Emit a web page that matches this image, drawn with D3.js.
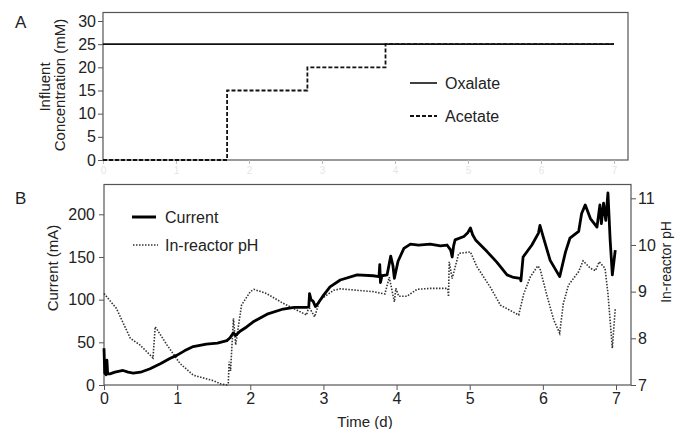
<!DOCTYPE html>
<html>
<head>
<meta charset="utf-8">
<script src="https://cdn.jsdelivr.net/npm/d3@7"></script>
<style>
  body { margin: 0; background: #fff; }
  svg { display: block; font-family: "Liberation Sans", Arial, sans-serif; }
</style>
</head>
<body>
<svg width="675" height="429"></svg>
<script>
// panel A: influent concentrations (step series)
const oxalateDays = [0, 7];
const oxalateMM = [25, 25];
const acetateDays = [0, 1.70, 1.70, 2.80, 2.80, 3.87, 3.87, 7];
const acetateMM = [0, 0, 15, 15, 20, 20, 25, 25];

// panel B: current (mA)
const currentDays = [0.00, 0.01, 0.03, 0.04, 0.05, 0.08, 0.15, 0.26, 0.33, 0.40, 0.50, 0.63, 0.77, 0.90, 1.00,
  1.10, 1.22, 1.40, 1.55, 1.68, 1.72, 1.77, 1.80, 1.86, 1.95, 2.04, 2.23, 2.45, 2.60, 2.77, 2.80, 2.81, 2.83,
  2.86, 2.89, 2.92, 3.00, 3.09, 3.23, 3.46, 3.68, 3.76, 3.77, 3.78, 3.80, 3.87, 3.92, 3.95, 3.97, 4.02, 4.10,
  4.19, 4.30, 4.46, 4.60, 4.69, 4.74, 4.76, 4.78, 4.80, 4.92, 4.97, 5.01, 5.04, 5.08, 5.24, 5.37, 5.51, 5.60,
  5.69, 5.70, 5.73, 5.85, 5.94, 5.96, 6.01, 6.10, 6.23, 6.31, 6.37, 6.49, 6.53, 6.58, 6.65, 6.74, 6.78, 6.80,
  6.83, 6.86, 6.89, 6.92, 6.95, 6.99];
const currentMA = [43, 14, 12, 29, 13, 13, 15, 17, 15, 14, 15, 19, 25, 31, 35,
  40, 45, 48, 49, 52, 55, 61, 58, 63, 68, 74, 83, 89, 91, 91, 92, 107, 100,
  98, 92, 95, 105, 115, 123, 129, 128, 127, 141, 120, 128, 129, 151, 140, 125, 145, 160,
  165, 164, 165, 163, 164, 158, 150, 163, 170, 174, 178, 184, 176, 170, 156, 144, 129, 126,
  125, 122, 150, 164, 178, 187, 172, 146, 127, 156, 172, 180, 201, 211, 195, 185, 211, 189,
  213, 193, 225, 170, 129, 158];

// panel B: in-reactor pH
const phDays = [0.00, 0.17, 0.36, 0.49, 0.67, 0.70, 0.86, 1.04, 1.22, 1.50, 1.60, 1.68, 1.70, 1.71, 1.73,
  1.77, 1.80, 1.88, 2.00, 2.05, 2.22, 2.45, 2.77, 2.80, 2.88, 2.95, 3.14, 3.23, 3.68, 3.84, 3.90, 3.97,
  3.99, 4.03, 4.14, 4.28, 4.46, 4.70, 4.71, 4.72, 4.76, 4.85, 5.01, 5.10, 5.28, 5.42, 5.67, 5.74, 5.83,
  5.93, 5.96, 6.06, 6.15, 6.23, 6.28, 6.35, 6.49, 6.55, 6.65, 6.72, 6.77, 6.85, 6.89, 6.95, 6.99];
const phValues = [8.96, 8.64, 8.00, 7.86, 7.58, 8.25, 7.86, 7.46, 7.21, 7.09, 7.02, 7.00, 7.05, 7.50, 7.30,
  8.43, 7.86, 8.71, 9.00, 9.05, 8.96, 8.75, 8.50, 8.68, 8.46, 8.82, 9.03, 9.06, 9.00, 8.95, 9.31, 8.78,
  9.07, 8.90, 8.90, 9.05, 9.07, 9.07, 8.89, 9.64, 9.28, 9.82, 9.85, 9.53, 9.10, 8.71, 8.50, 8.96, 9.32,
  9.55, 9.50, 8.89, 8.39, 8.11, 8.75, 9.14, 9.43, 9.66, 9.50, 9.45, 9.64, 9.50, 8.96, 7.79, 8.64];

// tick labels
const dayTicks = [0, 1, 2, 3, 4, 5, 6, 7];
const concTicks = [0, 5, 10, 15, 20, 25, 30];
const currentTicks = [0, 50, 100, 150, 200];
const phTicks = [7, 8, 9, 10, 11];

const svg = d3.select("svg");
const axisCol = "#555";
const textCol = "#222";
const fmt = d3.format("d");

// ---------- panel A ----------
const xA = d3.scaleLinear().domain([0, 7]).range([103, 614]);
const yA = d3.scaleLinear().domain([0, 30]).range([160, 21]);

svg.append("rect")
  .attr("x", 103).attr("y", 12.5).attr("width", 525).attr("height", 147.5)
  .attr("fill", "none").attr("stroke", axisCol).attr("stroke-width", 1.2);

const axA = svg.append("g")
  .attr("transform", "translate(103,0)")
  .call(d3.axisLeft(yA).tickValues(concTicks).tickFormat(fmt).tickSize(5).tickPadding(2).tickSizeOuter(0));
axA.select(".domain").remove();
axA.selectAll("line").attr("stroke", axisCol);
axA.selectAll("text").style("font-size", "16px").attr("fill", textCol);

// faint x ticks under panel A
const axAx = svg.append("g")
  .attr("transform", "translate(0,160)")
  .call(d3.axisBottom(xA).tickValues(dayTicks).tickFormat(fmt).tickSize(4).tickSizeOuter(0));
axAx.select(".domain").remove();
axAx.selectAll("line").attr("stroke", "#bbb");
axAx.selectAll("text").style("font-size", "10px").attr("fill", "#e6e6e6");

const lineA = d3.line().x(d => xA(d[0])).y(d => yA(d[1]));

svg.append("path")
  .attr("d", lineA(d3.zip(oxalateDays, oxalateMM)))
  .attr("fill", "none").attr("stroke", "#111").attr("stroke-width", 1.6);

svg.append("path")
  .attr("d", lineA(d3.zip(acetateDays, acetateMM)))
  .attr("fill", "none").attr("stroke", "#111").attr("stroke-width", 1.8)
  .attr("stroke-dasharray", "4,2");

svg.append("text")
  .attr("transform", "translate(44,87)rotate(-90)")
  .attr("text-anchor", "middle").attr("dominant-baseline", "central")
  .style("font-size", "15px").attr("fill", textCol)
  .text("Influent");
svg.append("text")
  .attr("transform", "translate(59,85)rotate(-90)")
  .attr("text-anchor", "middle").attr("dominant-baseline", "central")
  .style("font-size", "15px").attr("fill", textCol)
  .text("Concentration (mM)");

svg.append("text").attr("x", 15).attr("y", 28)
  .style("font-size", "17px").attr("fill", textCol).text("A");

// legend A
svg.append("line").attr("x1", 410).attr("x2", 437).attr("y1", 83).attr("y2", 83)
  .attr("stroke", "#111").attr("stroke-width", 1.6);
svg.append("text").attr("x", 445).attr("y", 83).attr("dominant-baseline", "central")
  .style("font-size", "16px").attr("fill", textCol).text("Oxalate");
svg.append("line").attr("x1", 410).attr("x2", 437).attr("y1", 116).attr("y2", 116)
  .attr("stroke", "#111").attr("stroke-width", 1.8).attr("stroke-dasharray", "4,2");
svg.append("text").attr("x", 445).attr("y", 116).attr("dominant-baseline", "central")
  .style("font-size", "16px").attr("fill", textCol).text("Acetate");

// ---------- panel B ----------
const xB = d3.scaleLinear().domain([0, 7]).range([104, 616]);
const yI = d3.scaleLinear().domain([0, 200]).range([385, 214.3]);
const yPH = d3.scaleLinear().domain([7, 11]).range([385, 198.3]);

svg.append("rect")
  .attr("x", 104).attr("y", 184.5).attr("width", 527).attr("height", 200.5)
  .attr("fill", "none").attr("stroke", axisCol).attr("stroke-width", 1.2);

const axBx = svg.append("g")
  .attr("transform", "translate(0,385)")
  .call(d3.axisBottom(xB).tickValues(dayTicks).tickFormat(fmt).tickSize(5).tickPadding(3).tickSizeOuter(0));
axBx.select(".domain").remove();
axBx.selectAll("line").attr("stroke", axisCol);
axBx.selectAll("text").style("font-size", "16px").attr("fill", textCol);

const axBl = svg.append("g")
  .attr("transform", "translate(104,0)")
  .call(d3.axisLeft(yI).tickValues(currentTicks).tickFormat(fmt).tickSize(5).tickPadding(4).tickSizeOuter(0));
axBl.select(".domain").remove();
axBl.selectAll("line").attr("stroke", axisCol);
axBl.selectAll("text").style("font-size", "16px").attr("fill", textCol);

const axBr = svg.append("g")
  .attr("transform", "translate(631,0)")
  .call(d3.axisRight(yPH).tickValues(phTicks).tickFormat(fmt).tickSize(5).tickPadding(2).tickSizeOuter(0));
axBr.select(".domain").remove();
axBr.selectAll("line").attr("stroke", axisCol);
axBr.selectAll("text").style("font-size", "16px").attr("fill", textCol);

// pH dotted line
svg.append("path")
  .attr("d", d3.line().x(d => xB(d[0])).y(d => yPH(d[1]))(d3.zip(phDays, phValues)))
  .attr("fill", "none").attr("stroke", "#333").attr("stroke-width", 1.6)
  .attr("stroke-dasharray", "1.5,1.5");

// current line
svg.append("path")
  .attr("d", d3.line().x(d => xB(d[0])).y(d => yI(d[1]))(d3.zip(currentDays, currentMA)))
  .attr("fill", "none").attr("stroke", "#000").attr("stroke-width", 2.8)
  .attr("stroke-linejoin", "round");

svg.append("text")
  .attr("transform", "translate(52,268)rotate(-90)")
  .attr("text-anchor", "middle").attr("dominant-baseline", "central")
  .style("font-size", "15px").attr("fill", textCol)
  .text("Current (mA)");
svg.append("text")
  .attr("transform", "translate(666,262)rotate(-90)")
  .attr("text-anchor", "middle").attr("dominant-baseline", "central")
  .style("font-size", "14px").attr("fill", textCol)
  .text("In-reactor pH");
svg.append("text")
  .attr("x", 365).attr("y", 421)
  .attr("text-anchor", "middle").attr("dominant-baseline", "central")
  .style("font-size", "15px").attr("fill", textCol)
  .text("Time (d)");

svg.append("text").attr("x", 15).attr("y", 204)
  .style("font-size", "17px").attr("fill", textCol).text("B");

// legend B
svg.append("line").attr("x1", 132).attr("x2", 156).attr("y1", 217).attr("y2", 217)
  .attr("stroke", "#000").attr("stroke-width", 3);
svg.append("text").attr("x", 165).attr("y", 217).attr("dominant-baseline", "central")
  .style("font-size", "16px").attr("fill", textCol).text("Current");
svg.append("line").attr("x1", 133).attr("x2", 158).attr("y1", 245).attr("y2", 245)
  .attr("stroke", "#333").attr("stroke-width", 1.6).attr("stroke-dasharray", "1.5,1.5");
svg.append("text").attr("x", 165).attr("y", 245).attr("dominant-baseline", "central")
  .style("font-size", "16px").attr("fill", textCol).text("In-reactor pH");
</script>
</body>
</html>
